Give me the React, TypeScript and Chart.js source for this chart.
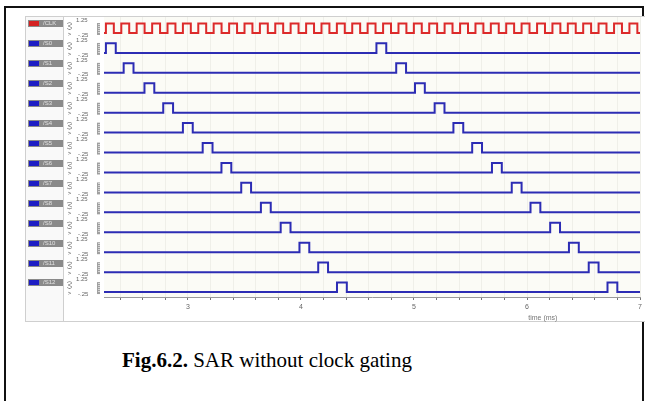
import React, { useEffect, useRef } from "react";
import { Chart, registerables } from "chart.js";

Chart.register(...registerables);

// ---------- data ----------
const signalNames = ["/CLK", "/S0", "/S1", "/S2", "/S3", "/S4", "/S5", "/S6", "/S7", "/S8", "/S9", "/S10", "/S11", "/S12"];
const clockColor = "#dc2a2a";
const stateColor = "#2c2cb4";

// clock rising edges (ms)
const clockRise = [
  2.275, 2.411, 2.547, 2.684, 2.82, 2.956, 3.092, 3.228, 3.365, 3.501, 3.637, 3.773,
  3.909, 4.046, 4.182, 4.318, 4.454, 4.59, 4.727, 4.863, 4.999, 5.135, 5.271, 5.408,
  5.544, 5.68, 5.816, 5.952, 6.089, 6.225, 6.361, 6.497, 6.633, 6.77, 6.906,
];
const clockHighWidth = 0.07;

// state pulse rising edges (ms), S0 .. S12
const pulseRise = [
  [2.275, 4.668],
  [2.432, 4.843],
  [2.616, 5.009],
  [2.782, 5.183],
  [2.956, 5.349],
  [3.131, 5.515],
  [3.297, 5.69],
  [3.472, 5.865],
  [3.646, 6.031],
  [3.821, 6.205],
  [3.987, 6.371],
  [4.153, 6.546],
  [4.319, 6.712],
];
const pulseWidth = 0.087;

const xTickValues = [2.4, 2.6, 2.8, 3, 3.2, 3.4, 3.6, 3.8, 4, 4.2, 4.4, 4.6, 4.8, 5, 5.2, 5.4, 5.6, 5.8, 6, 6.2, 6.4, 6.6, 6.8, 7];
const xTickLabels = ["3", "4", "5", "6", "7"];
const X_MIN = 2.258;
const X_MAX = 7.0;

const V_HIGH = 1.2;
const V_LOW = 0;
const V_TOP = 1.25;
const V_BOTTOM = -0.25;
const V_TOP_LABEL = "1.25";
const V_BOTTOM_LABEL = "-.25";
const ROW = 2.5;
const Y_MAX = 2.13;
const Y_MIN = -33.12;

const axisTitle = "time (ms)";
const axisTitleAt = 6.14;
const caption = { bold: "Fig.6.2.", text: " SAR without clock gating" };

// ---------- helpers ----------
function wave(rises: number[], width: number, row: number) {
  const off = -row * ROW;
  const pts: { x: number; y: number }[] = [{ x: X_MIN, y: off + V_LOW }];
  for (const r of rises) {
    pts.push(
      { x: r, y: off + V_LOW },
      { x: r, y: off + V_HIGH },
      { x: r + width, y: off + V_HIGH },
      { x: r + width, y: off + V_LOW }
    );
  }
  pts.push({ x: X_MAX, y: off + V_LOW });
  return pts;
}

const panelPlugin = {
  id: "panel",
  beforeDraw(chart: any) {
    const { ctx, chartArea: a, width, height } = chart;
    ctx.save();
    ctx.fillStyle = "#ffffff";
    ctx.fillRect(0, 0, width, height);
    ctx.fillStyle = "#f9f9f9";
    ctx.fillRect(0, 0, 38, height);
    ctx.fillStyle = "#fbfbf6";
    ctx.fillRect(a.left, a.top, a.right - a.left, a.bottom - a.top);
    ctx.restore();
  },
  afterDraw(chart: any) {
    const { ctx, width, height } = chart;
    const ys = chart.scales.y;
    const xs = chart.scales.x;
    ctx.save();
    // frame lines of the screenshot
    ctx.strokeStyle = "#cfcfcf";
    ctx.lineWidth = 1;
    ctx.beginPath();
    ctx.moveTo(0, 0.5); ctx.lineTo(width, 0.5);
    ctx.moveTo(0, height - 0.5); ctx.lineTo(width, height - 0.5);
    ctx.moveTo(0.5, 0); ctx.lineTo(0.5, height);
    ctx.moveTo(38.5, 0); ctx.lineTo(38.5, height);
    ctx.stroke();

    signalNames.forEach((name, i) => {
      const off = -i * ROW;
      const hi = ys.getPixelForValue(off + V_HIGH);
      const top = ys.getPixelForValue(off + V_TOP);
      const bot = ys.getPixelForValue(off + V_BOTTOM);
      // label box
      const by = Math.round(hi) - 3;
      ctx.fillStyle = "#8a8a8a";
      ctx.fillRect(3, by, 35, 7);
      ctx.fillStyle = i === 0 ? "#d42222" : "#1e1ec4";
      ctx.fillRect(4, by + 1, 10, 5);
      ctx.fillStyle = "#e2e2e2";
      ctx.font = '6px "Liberation Sans"';
      ctx.textAlign = "left";
      ctx.textBaseline = "middle";
      ctx.fillText(name, 18, by + 3.5);
      // (V) rotated
      ctx.fillStyle = "#555";
      ctx.font = '6px "Liberation Sans"';
      ctx.save();
      ctx.translate(44.5, top - 1);
      ctx.rotate(Math.PI / 2);
      ctx.textAlign = "left";
      ctx.textBaseline = "middle";
      ctx.fillText("(V)", 0, 0);
      ctx.restore();
      ctx.textAlign = "center";
      ctx.fillText(">", 44.5, bot - 1);
      // range labels
      ctx.fillStyle = "#666";
      ctx.textAlign = "left";
      ctx.fillText(V_TOP_LABEL, 51, top - 3);
      ctx.fillText(V_BOTTOM_LABEL, 53, bot);
      // ruler
      ctx.fillStyle = "#a0a0a0";
      ctx.fillRect(72, top, 3, bot - top);
      ctx.fillStyle = "#d6d6d6";
      for (let yy = top + 1; yy < bot - 1; yy += 2) ctx.fillRect(73, Math.round(yy), 2, 1);
    });

    // axis title
    ctx.fillStyle = "#777";
    ctx.font = '7px "Liberation Sans"';
    ctx.textAlign = "center";
    ctx.textBaseline = "middle";
    ctx.fillText(axisTitle, xs.getPixelForValue(axisTitleAt), height - 4);
    ctx.restore();
  },
};

export default function App() {
  const ref = useRef<HTMLCanvasElement>(null);
  useEffect(() => {
    if (!ref.current) return;
    const datasets = [
      {
        data: wave(clockRise, clockHighWidth, 0),
        borderColor: clockColor,
        borderWidth: 2,
      },
      ...pulseRise.map((r, k) => ({
        data: wave(r, pulseWidth, k + 1),
        borderColor: stateColor,
        borderWidth: 2,
      })),
    ].map((d) => ({ ...d, pointRadius: 0, tension: 0, fill: false }));

    const chart = new Chart(ref.current, {
      type: "line",
      data: { datasets },
      options: {
        animation: false,
        responsive: false,
        devicePixelRatio: 1,
        events: [],
        layout: { autoPadding: false, padding: { left: 79, right: 0, top: 0, bottom: 0 } },
        plugins: { legend: { display: false }, tooltip: { enabled: false } },
        scales: {
          x: {
            type: "linear",
            min: X_MIN,
            max: X_MAX,
            afterBuildTicks: (s: any) => {
              s.ticks = xTickValues.map((v) => ({ value: v }));
            },
            afterFit: (s: any) => {
              s.height = 25;
            },
            ticks: {
              autoSkip: false,
              maxRotation: 0,
              padding: 3,
              color: "#666",
              font: { size: 7, family: "Liberation Sans" },
              callback: (v: any) => {
                const n = Number(v);
                const lbl = xTickLabels.find((t) => Math.abs(Number(t) - n) < 1e-6);
                return lbl ?? "";
              },
            },
            grid: { color: "#efefe9", tickColor: "#777", tickLength: 3, lineWidth: 1 },
            border: { color: "#9a9a9a", width: 1 },
          },
          y: { type: "linear", display: false, min: Y_MIN, max: Y_MAX },
        },
      } as any,
      plugins: [panelPlugin],
    });
    return () => chart.destroy();
  }, []);

  return (
    <div style={{ position: "absolute", left: 0, top: 0, width: 645, height: 401, background: "#fff", overflow: "hidden" }}>
      <div style={{ position: "absolute", left: 4, top: 6, width: 640, height: 2, background: "#111" }} />
      <div style={{ position: "absolute", left: 4, top: 6, width: 2, height: 395, background: "#111" }} />
      <div style={{ position: "absolute", left: 642, top: 6, width: 2, height: 395, background: "#111" }} />
      <canvas
        ref={ref}
        width={620}
        height={306}
        style={{ position: "absolute", left: 25, top: 16, width: 620, height: 306 }}
      />
      <div
        style={{
          position: "absolute",
          left: 122,
          top: 350,
          font: '21px "Liberation Serif"',
          lineHeight: "21px",
          whiteSpace: "nowrap",
          color: "#000",
        }}
      >
        <b>{caption.bold}</b>
        {caption.text}
      </div>
    </div>
  );
}
